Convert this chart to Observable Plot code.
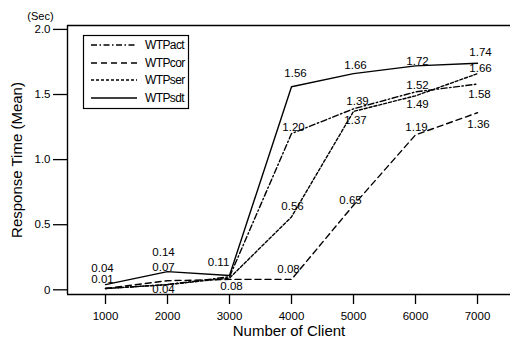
<!DOCTYPE html>
<html><head><meta charset="utf-8">
<script src="https://cdn.jsdelivr.net/npm/d3@7"></script>
<script src="https://cdn.jsdelivr.net/npm/@observablehq/plot@0.6"></script>
<style>body{margin:0;background:#fff}svg{display:block}</style>
</head><body><div id="chart"></div>
<script>
// ---- data ----
const clients = [1000, 2000, 3000, 4000, 5000, 6000, 7000];
const seriesNames = ["WTPact", "WTPcor", "WTPser", "WTPsdt"];
const wtpAct = [0.01, 0.04, 0.10, 1.20, 1.39, 1.52, 1.58];
const wtpCor = [0.01, 0.07, 0.08, 0.08, 0.65, 1.19, 1.36];
const wtpSer = [0.01, 0.04, 0.09, 0.56, 1.37, 1.49, 1.66];
const wtpSdt = [0.04, 0.14, 0.11, 1.56, 1.66, 1.72, 1.74];
const yTicks = [0, 0.5, 1.0, 1.5, 2.0];
// value labels printed on the chart
const labelX     = [1000, 1000, 2000, 2000, 2000, 3000, 3000, 4000, 4000, 4000, 4000, 5000, 5000, 5000, 5000, 6000, 6000, 6000, 6000, 7000, 7000, 7000, 7000];
const labelValue = [0.04, 0.01, 0.14, 0.07, 0.04, 0.11, 0.08, 1.56, 1.20, 0.56, 0.08, 1.66, 1.39, 1.37, 0.65, 1.72, 1.52, 1.49, 1.19, 1.74, 1.66, 1.58, 1.36];

// ---- layout / style (not data) ----
const labelDx = [-3, -3, -4, -4, -4, -11, 2, 4, 2, 1, -3, 2, 4, 2, -3, 2, 2, 2, 1, 3, 3, 2, 1];
const labelDy = [-16, -9, -19, -13, 5, -13, 7, -13, -6, -11, -10, -8, -8, 9, -5, -5, -7, 9, -8, -11, -5, 10, 12];
const dashes = {WTPact: "6,2.5,1.5,2.5", WTPcor: "6,4", WTPser: "3,2", WTPsdt: null};
const xDomain = [387, 7532];
const yDomain = [-0.036, 2.03];

const seriesValues = [wtpAct, wtpCor, wtpSer, wtpSdt];
const rows = seriesNames.flatMap((s, k) => clients.map((c, i) => ({series: s, x: c, y: seriesValues[k][i]})));
const labels = labelX.map((x, i) => ({x, y: labelValue[i], text: labelValue[i].toFixed(2), dx: labelDx[i], dy: labelDy[i]}));

const font = "Liberation Sans, Arial, sans-serif";
const plot = Plot.plot({
  width: 515, height: 345,
  marginLeft: 67, marginRight: 5, marginTop: 25, marginBottom: 51,
  style: {fontFamily: font, fontSize: "11px", color: "#000", background: "#fff"},
  x: {domain: xDomain},
  y: {domain: yDomain},
  marks: [
    Plot.ruleY([yDomain[0]], {stroke: "#000", strokeWidth: 1.4}),
    Plot.ruleY([yDomain[1]], {stroke: "#000", strokeWidth: 1.3}),
    Plot.ruleX([xDomain[0]], {stroke: "#000", strokeWidth: 1.4}),
    Plot.axisY({ticks: yTicks, tickSize: 14, tickPadding: 3, tickFormat: d => d === 0 ? "0" : d.toFixed(1), label: null, strokeWidth: 1.3, fontSize: 11.5}),
    Plot.axisX({ticks: clients, tickSize: 10, tickPadding: 7, tickFormat: d => String(d), label: null, strokeWidth: 1.3, fontSize: 11.5}),
    ...seriesNames.map(s => Plot.line(rows.filter(r => r.series === s), {x: "x", y: "y", stroke: "#000", strokeWidth: 1.4, strokeDasharray: dashes[s]})),
    ...labels.map(l => Plot.text([l], {x: "x", y: "y", text: "text", dx: l.dx, dy: l.dy, fontSize: 11.5, fill: "#000"})),
    Plot.text(["Response Time (Mean)"], {frameAnchor: "left", dx: -50, rotate: -90, fontSize: 15, textAnchor: "middle"}),
    Plot.text(["Number of Client"], {frameAnchor: "bottom", dy: 41, fontSize: 15, textAnchor: "middle"}),
    Plot.text(["(Sec)"], {frameAnchor: "top-left", dx: -27, dy: -13, fontSize: 11, textAnchor: "middle"})
  ]
});
document.getElementById("chart").appendChild(plot);

// legend box inside the plot area
const svg = d3.select(plot);
const lg = svg.append("g").attr("font-family", font).attr("font-size", 12).attr("text-anchor", "start");
lg.append("rect").attr("x", 83.5).attr("y", 35.5).attr("width", 105).attr("height", 73).attr("fill", "#fff").attr("stroke", "#000").attr("stroke-width", 1.2);
const rowY = [45, 63, 80, 98];
seriesNames.forEach((s, i) => {
  lg.append("line").attr("x1", 91).attr("x2", 137).attr("y1", rowY[i]).attr("y2", rowY[i])
    .attr("stroke", "#000").attr("stroke-width", 1.3).attr("stroke-dasharray", dashes[s]);
  lg.append("text").attr("x", 145).attr("y", rowY[i]).attr("dy", "0.35em").attr("text-anchor", "start").attr("letter-spacing", -0.6).text(s);
});
</script></body></html>
